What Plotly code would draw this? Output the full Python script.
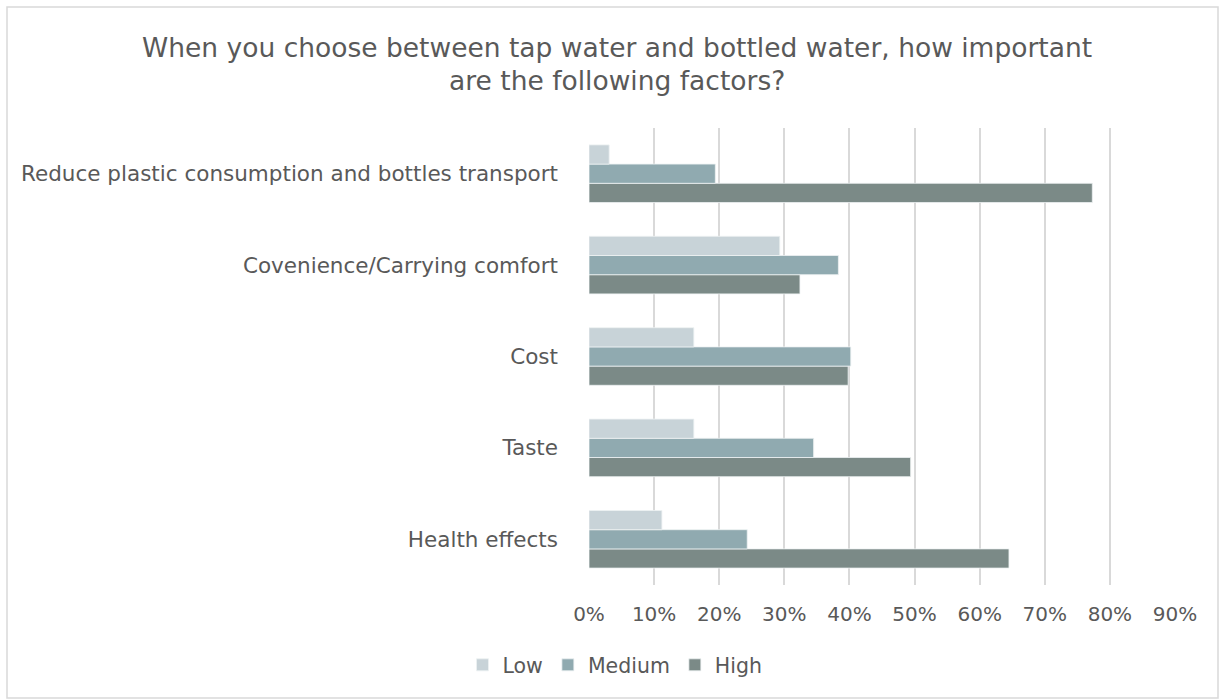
import plotly.graph_objects as go

# Survey factors (bottom to top as drawn)
factors = [
    "Health effects",
    "Taste",
    "Cost",
    "Covenience/Carrying comfort",
    "Reduce plastic consumption and bottles transport",
]
# Share of respondents per importance level (fractions)
low = [0.112, 0.161, 0.161, 0.293, 0.031]
medium = [0.243, 0.345, 0.402, 0.383, 0.194]
high = [0.645, 0.494, 0.398, 0.324, 0.773]
ticks = [0, 0.1, 0.2, 0.3, 0.4, 0.5, 0.6, 0.7, 0.8, 0.9]
title_lines = [
    "When you choose between tap water and bottled water, how important",
    "are the following factors?",
]

colors = {"Low": "#c8d3d8", "Medium": "#90aab0", "High": "#7b8a87"}
font_family = "DejaVu Sans, sans-serif"
text_color = "#595959"

W, H = 1220, 700
ml, mr, mt, mb = 589, 45, 128, 115

fig = go.Figure()
# Added High first so that Low sits on top within each group
for name, vals in [("High", high), ("Medium", medium), ("Low", low)]:
    fig.add_trace(go.Bar(
        y=factors, x=vals, name=name, orientation="h",
        marker=dict(color=colors[name], line=dict(color="#eef1f2", width=0.8)),
    ))

pw, ph = W - ml - mr, H - mt - mb

# Light frame around the whole chart area
fig.add_shape(
    type="rect", xref="paper", yref="paper",
    x0=(7 - ml) / pw, x1=(W - 2 - ml) / pw,
    y0=-(H - 2 - mt - ph) / ph, y1=1 + (mt - 7) / ph,
    line=dict(color="#d9d9d9", width=1.5), fillcolor="rgba(0,0,0,0)",
    layer="below",
)

# Two-line chart title, each line centred on the page
for i, line in enumerate(title_lines):
    y_px = 47 + 33 * i
    fig.add_annotation(
        text=line, showarrow=False,
        xref="paper", yref="paper",
        x=(W / 2 + 7 - ml) / pw, xanchor="center",
        y=1 + (mt - y_px) / ph, yanchor="middle",
        font=dict(size=26.5, color=text_color, family=font_family),
    )

fig.update_layout(
    width=W, height=H,
    margin=dict(l=ml, r=mr, t=mt, b=mb),
    paper_bgcolor="white", plot_bgcolor="white",
    barmode="group", bargap=0.37, bargroupgap=0,
    font=dict(family=font_family, color=text_color),
    xaxis=dict(
        range=[0, 0.9], tickvals=ticks, tickformat=".0%",
        showgrid=True, gridcolor="#d9d9d9", gridwidth=1.5,
        zeroline=False, showline=False,
        tickfont=dict(size=20, color=text_color), ticks="", ticklabelstandoff=15,
    ),
    yaxis=dict(
        showgrid=False, zeroline=False, showline=False,
        tickfont=dict(size=21.5, color=text_color), ticks="", ticklabelstandoff=30,
    ),
    legend=dict(
        orientation="h", traceorder="reversed",
        x=615 / W, xref="container", xanchor="center",
        y=1 - 645 / H, yref="container", yanchor="top",
        font=dict(size=20.5, color=text_color),
        itemwidth=30,
    ),
    showlegend=True,
)

fig.write_html("out.html")
